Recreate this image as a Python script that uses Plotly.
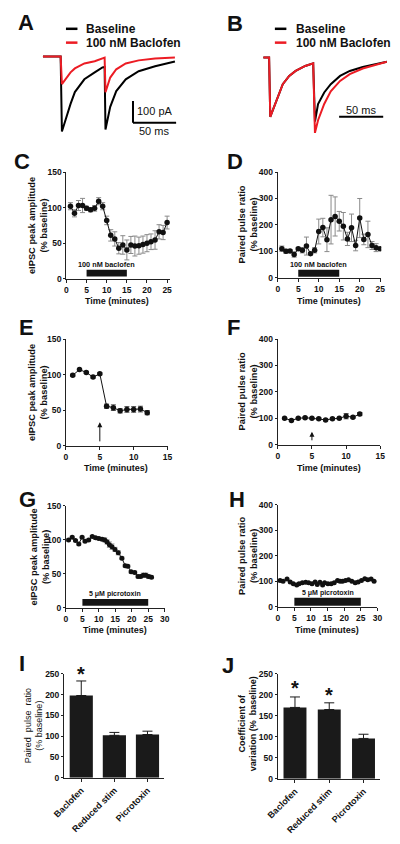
import plotly.graph_objects as go

# ---------------- data ----------------
# Panel A: example eIPSC traces (time in ms, current in pA)
a_t_base = [0, 20.5, 22, 28, 32, 37, 48, 60, 69, 71.5, 72.5, 78, 85, 96, 111, 130, 153]
a_i_base = [0, 0, -345, -264, -218, -164, -105, -73, -50, -48, -336, -232, -159, -105, -68, -45, -23]
a_t_bac = [0, 20.5, 22, 32, 37, 48, 60, 69, 71.5, 72.5, 78, 85, 96, 111, 130, 153]
a_i_bac = [0, 0, -127, -73, -55, -32, -22, -10, -5, -164, -97, -59, -32, -18, -9, -5]

# Panel B: scaled traces
b_t = [0, 6.5, 7.8, 14.9, 22, 29.3, 36.6, 47.5, 54.7, 56.5, 58.5, 62, 69, 76.4, 87, 98, 112.7, 127, 140]
b_i_base = [0, 0, -273, -199, -123, -85, -62, -39, -29, -27, -295, -214, -161, -123, -85, -62, -44, -32, -20]
b_i_bac = [0, 0, -273, -199, -123, -85, -62, -39, -29, -27, -347, -289, -214, -156, -108, -77, -51, -35, -20]

# Panel C: eIPSC amplitude, baclofen
c_time = [1, 2, 3, 4, 5, 6, 7, 8, 9, 10, 11, 12, 13, 14, 15, 16, 17, 18, 19, 20, 21, 22, 23, 24, 25]
c_amp = [102, 92, 103, 103, 99, 97, 99, 109, 102, 82, 61, 56, 43, 47.5, 40.5, 47.5, 46, 46.5, 48, 50, 52, 54.5, 66, 65, 79]
c_sem = [5, 5, 7, 10, 3, 3, 4, 5, 5, 6, 8, 10, 8, 13, 14, 12, 14, 12, 12, 12, 11, 13, 10, 10, 9]

# Panel D: PPR, baclofen
d_time = c_time
d_ppr = [110, 100, 101, 88, 110, 104, 120, 91, 104, 175, 190, 144, 220, 232, 214, 195, 147, 189, 122, 226, 145, 164, 122, 114, 110]
d_sem = [10, 8, 5, 10, 5, 10, 34, 5, 10, 47, 35, 45, 92, 74, 37, 52, 25, 52, 20, 74, 20, 50, 15, 15, 5]

# Panel E: eIPSC amplitude, reduced stimulation
e_time = [1, 2, 3, 4, 5, 6, 7, 8, 9, 10, 11, 12]
e_amp = [99, 107, 103, 96.5, 101, 55.5, 53.5, 49, 51, 51, 51.5, 46.5]
e_sem = [1.5, 1.5, 1.5, 1.5, 1.5, 3, 4, 3, 4, 4, 4, 3]

# Panel F: PPR, reduced stimulation
f_time = e_time
f_ppr = [100, 92, 100, 102, 100, 98, 94, 98, 100, 108, 104, 116]
f_sem = [3, 3, 3, 3, 3, 3, 3, 3, 3, 10, 4, 6]

# Panel G: eIPSC amplitude, picrotoxin
g_time = [0.8, 1.9, 2.9, 3.9, 4.9, 5.8, 6.9, 8.0, 9.0, 10.0, 11.0, 11.8, 12.5, 13.2, 14.0, 14.9,
          15.9, 17.0, 18.0, 18.8, 19.8, 20.9, 21.9, 22.7, 23.5, 24.3, 25.1, 26.0]
g_amp = [100, 104, 99, 94, 104, 98, 100, 105, 103, 102, 101, 100, 97, 93, 90, 86,
         81, 73, 62, 61, 53, 52, 46, 46, 48, 48, 46, 45]
g_sem = [1.5, 1.5, 1.5, 1.5, 1.5, 1.5, 1.5, 1.5, 2, 2, 2, 3, 3, 4, 4, 3,
         3, 2, 2, 2, 2, 2, 2, 2, 3, 3, 3, 2]

# Panel H: PPR, picrotoxin
h_time = [0.7, 1.6, 2.8, 3.75, 4.7, 5.7, 6.4, 7.4, 8.4, 9.3, 10.3, 11.25, 11.9, 12.7, 13.5, 14.1,
          15.1, 16.1, 17.0, 18.0, 18.75, 19.5, 20.4, 21.3, 22.3, 23.3, 24.2, 25.2, 26.2, 27.1, 28.1, 29.0]
h_ppr = [103, 100, 109, 97, 90, 85, 90, 94, 96, 94, 90, 97, 87, 96, 85, 94,
         90, 90, 94, 103, 100, 100, 103, 106, 100, 94, 97, 103, 110, 106, 109, 100]

# Panels I, J: summary bars
bar_cats = ["Baclofen", "Reduced stim", "Picrotoxin"]
i_val = [198, 102, 104]
i_err = [35, 7, 8]
j_val = [170, 165, 96]
j_err = [25, 16, 10]

time_ticks_25 = [0, 5, 10, 15, 20, 25]
time_ticks_15 = [0, 5, 10, 15]
time_ticks_30 = [0, 5, 10, 15, 20, 25, 30]
amp_ticks = [0, 50, 100, 150]
ppr_ticks = [0, 100, 200, 300, 400]
bar_ticks = [0, 50, 100, 150, 200, 250]

# ---------------- layout helpers ----------------
# The page body keeps its default 8 px margin, so the figure is made 16 px smaller
# and every page-pixel position is shifted by that margin.
PAGE_W, PAGE_H, PAD = 400, 844, 8
W, H = PAGE_W - 2 * PAD, PAGE_H - 2 * PAD
FONT = "Liberation Sans, Arial, Helvetica, sans-serif"
AX = "#222222"
INK = "#111111"
RED = "#ec1c24"


def fx(p):
    return (p - PAD) / W


def fy(p):
    return 1 - (p - PAD) / H


def ax_names(n):
    return ("xaxis" if n == 1 else f"xaxis{n}", "yaxis" if n == 1 else f"yaxis{n}",
            "x" if n == 1 else f"x{n}", "y" if n == 1 else f"y{n}")


common = dict(showgrid=False, zeroline=False, showline=True, linecolor=AX, linewidth=1,
              ticks="outside", ticklen=3, tickwidth=1, tickcolor=AX,
              tickfont=dict(family=FONT, size=8.5, color=INK, weight="bold"), fixedrange=True)

layout_axes = {}


def make_axes(n, xpx, ypx, xr, yr, visible=True, xtv=None, ytv=None, xtt=None, xangle=None,
              xfont=None):
    xa, ya, xs, ys = ax_names(n)
    xd = dict(domain=[fx(xpx[0]), fx(xpx[1])], range=xr, anchor=ys)
    yd = dict(domain=[fy(ypx[1]), fy(ypx[0])], range=yr, anchor=xs)
    if not visible:
        xd.update(visible=False, fixedrange=True)
        yd.update(visible=False, fixedrange=True)
    else:
        xd.update(common)
        yd.update(common)
        yd["ticklen"] = 2
        if xtv is not None:
            xd.update(tickmode="array", tickvals=xtv)
        if xtt is not None:
            xd["ticktext"] = xtt
        if xangle is not None:
            xd["tickangle"] = xangle
        if xfont is not None:
            xd["tickfont"] = xfont
        if ytv is not None:
            yd.update(tickmode="array", tickvals=ytv)
    layout_axes[xa] = xd
    layout_axes[ya] = yd
    return xs, ys


fig = go.Figure()

# Panel A
xA, yA = make_axes(1, (30, 175), (45, 135), [-3.33, 157.8], [-377.3, 31.8], visible=False)
fig.add_trace(go.Scatter(x=a_t_base, y=a_i_base, mode="lines", line=dict(color="#000", width=2),
                         xaxis=xA, yaxis=yA, showlegend=False, hoverinfo="skip"))
fig.add_trace(go.Scatter(x=a_t_bac, y=a_i_bac, mode="lines", line=dict(color=RED, width=2),
                         xaxis=xA, yaxis=yA, showlegend=False, hoverinfo="skip"))

# Panel B
xB, yB = make_axes(2, (258, 392), (45, 140), [-5.43, 140.2], [-395.5, 36.4], visible=False)
fig.add_trace(go.Scatter(x=b_t, y=b_i_base, mode="lines", line=dict(color="#000", width=2),
                         xaxis=xB, yaxis=yB, showlegend=False, hoverinfo="skip"))
fig.add_trace(go.Scatter(x=b_t, y=b_i_bac, mode="lines", line=dict(color=RED, width=2),
                         xaxis=xB, yaxis=yB, showlegend=False, hoverinfo="skip"))


def ts_trace(x, y, err, xs, ys, msize=5.5, ecol="#8a8a8a"):
    e = dict(type="data", array=err, color=ecol, thickness=1, width=2.5, visible=True) if err else None
    return go.Scatter(x=x, y=y, mode="lines+markers", line=dict(color=INK, width=1),
                      marker=dict(color=INK, size=msize), error_y=e,
                      xaxis=xs, yaxis=ys, showlegend=False)


xC, yC = make_axes(3, (57.5, 165.5), (169, 277), [0, 25.7], [0, 150], xtv=time_ticks_25, ytv=amp_ticks)
fig.add_trace(ts_trace(c_time, c_amp, c_sem, xC, yC))
xD, yD = make_axes(4, (278, 386), (169, 276), [0, 25.25], [0, 400], xtv=time_ticks_25, ytv=ppr_ticks)
fig.add_trace(ts_trace(d_time, d_ppr, d_sem, xD, yD))
xE, yE = make_axes(5, (57, 163), (338, 446), [0, 15], [0, 150], xtv=time_ticks_15, ytv=amp_ticks)
fig.add_trace(ts_trace(e_time, e_amp, e_sem, xE, yE, ecol="#555"))
xF, yF = make_axes(6, (278, 385), (338, 445), [0, 15], [0, 400], xtv=time_ticks_15, ytv=ppr_ticks)
fig.add_trace(ts_trace(f_time, f_ppr, f_sem, xF, yF, ecol="#555"))
xG, yG = make_axes(7, (57, 160), (507, 610), [0, 30], [0, 150], xtv=time_ticks_30, ytv=amp_ticks)
fig.add_trace(ts_trace(g_time, g_amp, g_sem, xG, yG, msize=5, ecol="#999"))
xH, yH = make_axes(8, (278, 382), (506, 609), [0, 30], [0, 400], xtv=time_ticks_30, ytv=ppr_ticks)
fig.add_trace(ts_trace(h_time, h_ppr, None, xH, yH, msize=5))

catfont = dict(family=FONT, size=9, color=INK, weight="bold")
xI, yI = make_axes(9, (55, 159), (677, 782), [-0.52, 2.49], [0, 250], xtv=[0, 1, 2], xtt=bar_cats,
                   xangle=-45, ytv=bar_ticks, xfont=catfont)
fig.add_trace(go.Bar(x=[0, 1, 2], y=i_val, width=0.70, marker=dict(color="#1a1a1a", line=dict(width=0)),
                     error_y=dict(type="data", array=i_err, arrayminus=[0, 0, 0], symmetric=False,
                                  color="#1a1a1a", thickness=1, width=5),
                     xaxis=xI, yaxis=yI, showlegend=False))
xJ, yJ = make_axes(10, (278, 385), (677, 783), [-0.503, 2.49], [0, 250], xtv=[0, 1, 2], xtt=bar_cats,
                   xangle=-45, ytv=bar_ticks, xfont=catfont)
fig.add_trace(go.Bar(x=[0, 1, 2], y=j_val, width=0.67, marker=dict(color="#1a1a1a", line=dict(width=0)),
                     error_y=dict(type="data", array=j_err, arrayminus=[0, 0, 0], symmetric=False,
                                  color="#1a1a1a", thickness=1, width=5),
                     xaxis=xJ, yaxis=yJ, showlegend=False))

shapes = []
annotations = []


def txt(x, y, s, size, xref="paper", yref="paper", bold=True, angle=0, xanchor="center",
        yanchor="middle", color=INK, yshift=0):
    annotations.append(dict(x=x, y=y, xref=xref, yref=yref, text=s, showarrow=False,
                            textangle=angle, xanchor=xanchor, yanchor=yanchor, yshift=yshift,
                            font=dict(family=FONT, size=size, color=color,
                                      weight="bold" if bold else "normal")))


# panel letters
for lab, (lx, ly) in {"A": (15.5, 17.5), "B": (233, 18.5), "C": (11.5, 158.5), "D": (233.5, 158.5),
                      "E": (15.5, 326.5), "F": (231.5, 326.5), "G": (16.5, 500), "H": (235, 500),
                      "I": (11, 666.5), "J": (226, 668)}.items():
    txt(fx(lx), fy(ly), lab, 22)

# legends A and B
for (x0, x1, tx) in [(57, 69, 76), (275, 287, 295)]:
    shapes.append(dict(type="line", xref="paper", yref="paper", x0=fx(x0), x1=fx(x1), y0=fy(24), y1=fy(24),
                       line=dict(color="#000", width=2.5)))
    shapes.append(dict(type="line", xref="paper", yref="paper", x0=fx(x0), x1=fx(x1), y0=fy(38), y1=fy(38),
                       line=dict(color=RED, width=2.5)))
    txt(fx(tx), fy(24), "Baseline", 12, xanchor="left")
    txt(fx(tx), fy(38), "100 nM Baclofen", 12, xanchor="left")

# scale bars
shapes.append(dict(type="line", xref=xA, yref=yA, x0=104.4, x1=104.4, y0=-204.5, y1=-304.5,
                   line=dict(color="#000", width=2)))
shapes.append(dict(type="line", xref=xA, yref=yA, x0=104.4, x1=154.4, y0=-304.5, y1=-304.5,
                   line=dict(color="#000", width=2)))
txt(106.5, -252, "100 pA", 11, xref=xA, yref=yA, bold=False, xanchor="left")
txt(129, -341, "50 ms", 11, xref=xA, yref=yA, bold=False)
shapes.append(dict(type="line", xref=xB, yref=yB, x0=85.9, x1=135.9, y0=-272.7, y1=-272.7,
                   line=dict(color="#000", width=2)))
txt(111, -243, "50 ms", 11, xref=xB, yref=yB, bold=False)

# drug application bars
for (xs, ys, y0, y1, label) in [(xC, yC, 3, 12.5, "100 nM baclofen"), (xD, yD, 4, 30, "100 nM baclofen"),
                                (xG, yG, 3, 13, "5 \u03bcM picrotoxin"), (xH, yH, 4, 35, "5 \u03bcM picrotoxin")]:
    x0, x1 = (5, 15) if "baclofen" in label else (5, 25)
    shapes.append(dict(type="rect", xref=xs, yref=ys, x0=x0, x1=x1, y0=y0, y1=y1,
                       fillcolor="#141414", line=dict(width=0)))
    size = 7.3 if "baclofen" in label else 7
    txt((x0 + x1) / 2, y1, label, size, xref=xs, yref=ys, yanchor="bottom", yshift=-1)

# arrows (reduced stimulation onset)
for (xs, ys, head, tail) in [(xE, yE, 33, 4), (xF, yF, 49, 11)]:
    annotations.append(dict(x=5, y=head, ax=5, ay=tail, xref=xs, yref=ys, axref=xs, ayref=ys, text="",
                            showarrow=True, arrowhead=2, arrowsize=1, arrowwidth=1, arrowcolor=INK))

# axis titles
amp_title = "eIPSC peak amplitude<br>(% baseline)"
ppr_title = "Paired pulse ratio<br>(% baseline)"
for (cx, cy, s) in [(28.5, 223, amp_title), (246.5, 222.5, ppr_title), (28.5, 392, amp_title),
                    (246.5, 391.5, ppr_title), (29.5, 558.5, amp_title), (247, 557.5, ppr_title)]:
    txt(fx(cx), fy(cy), s, 9.3, angle=-90)
for (cx, cy) in [(110, 300), (331, 300), (109, 468.5), (331, 468.5), (108, 632.5), (329, 632.5)]:
    txt(fx(cx), fy(cy), "Time (minutes)", 9)
txt(fx(23.5), fy(729), "Paired&nbsp;&nbsp;pulse&nbsp;&nbsp;ratio<br>(% baseline)", 9, angle=-90, bold=False)
txt(fx(247), fy(728), "Coefficient of<br>variation (%&nbsp;&nbsp;baseline)", 9, angle=-90)

# significance asterisks
txt(0, 250, "*", 20, xref=xI, yref=yI)
txt(0, 217, "*", 20, xref=xJ, yref=yJ)
txt(1, 200, "*", 20, xref=xJ, yref=yJ)

fig.update_layout(width=W, height=H, margin=dict(l=0, r=0, t=0, b=0),
                  paper_bgcolor="white", plot_bgcolor="rgba(0,0,0,0)",
                  font=dict(family=FONT, color=INK), shapes=shapes, annotations=annotations,
                  showlegend=False, **layout_axes)

fig.write_html("out.html")
